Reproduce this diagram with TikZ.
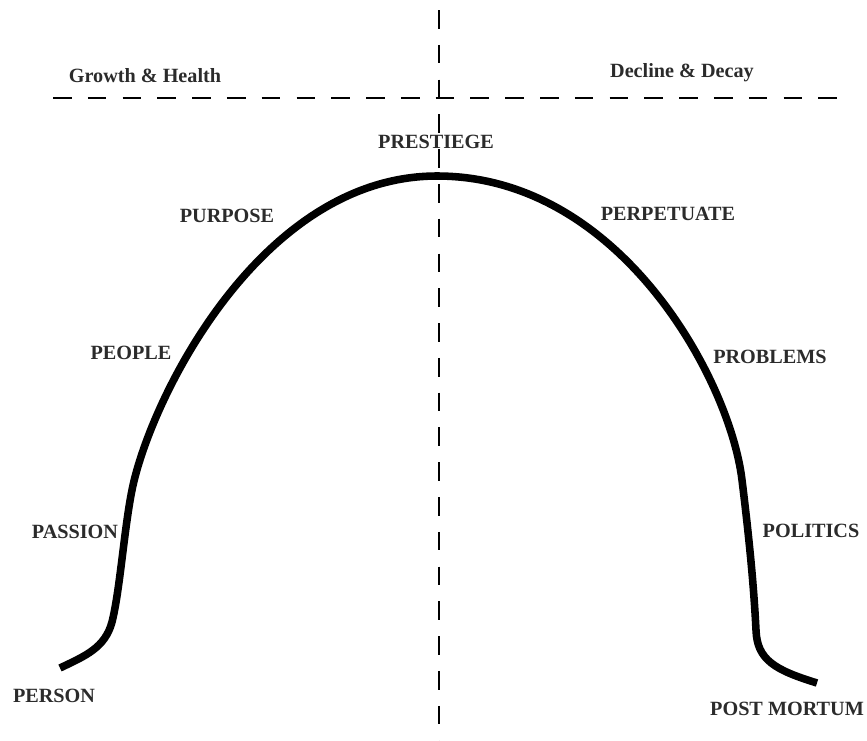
\documentclass[tikz,border=0pt]{standalone}
\usepackage{fontspec}
\setmainfont{Liberation Serif}
\usepackage{tikz}
\usetikzlibrary{positioning}
\definecolor{labelInk}{HTML}{2B2B2B}
\tikzset{
  phase/.style={
    font=\fontsize{11.5}{13}\selectfont\bfseries,
    text=labelInk, inner sep=1pt
  },
  region/.style={phase},
  divider/.style={draw=black, dash pattern=on 10.6pt off 9.2pt},
  lifecurve/.style={draw=black, line width=4.3pt, line join=round}
}

\begin{document}
\begin{tikzpicture}[x=0.02cm,y=-0.02cm]
  \useasboundingbox (0,0) rectangle (867,741);

  % dividers
  \coordinate (vtop) at (439,10);
  \coordinate (vbot) at (439,741);
  \coordinate (hleft) at (53,98);
  \coordinate (hright) at (838,98);
  \draw[divider, line width=1.4pt] (hleft) -- (hright);

  % the life curve
  \coordinate (birth) at (60,668);
  \coordinate (peak) at (437,176);
  \coordinate (death) at (817,683);
  \draw[lifecurve] (birth)
    .. controls (85,656) and (105,648) .. (112,622)
    .. controls (120,590) and (124,530) .. (132,490)
    .. controls (150,400) and (260,176) .. (peak)
    .. controls (620,176) and (730,380) .. (742,480)
    .. controls (750,545) and (754,590) .. (756,630)
    .. controls (757,660) and (775,670) .. (death);

  \draw[divider, line width=1.1pt] (vtop) -- (vbot);

  % region headings
  \node[region] (growth)  at (145,76) {Growth \& Health};
  \node[region] (decline) at (682,73) {Decline \& Decay};

  % stages, left to right
  \node[phase] (person)     at (54,696)  {PERSON};
  \node[phase] (passion)    at (75,532)  {PASSION};
  \node[phase] (people)     at (131,353) {PEOPLE};
  \node[phase] (purpose)    at (227,216) {PURPOSE};
  \node[phase] (prestiege)  at (436,142) {PRESTIEGE};
  \node[phase] (perpetuate) at (668,214) {PERPETUATE};
  \node[phase] (problems)   at (770,357) {PROBLEMS};
  \node[phase] (politics)   at (811,531) {POLITICS};
  \node[phase] (postmortum) at (787,709) {POST MORTUM};
\end{tikzpicture}
\end{document}
